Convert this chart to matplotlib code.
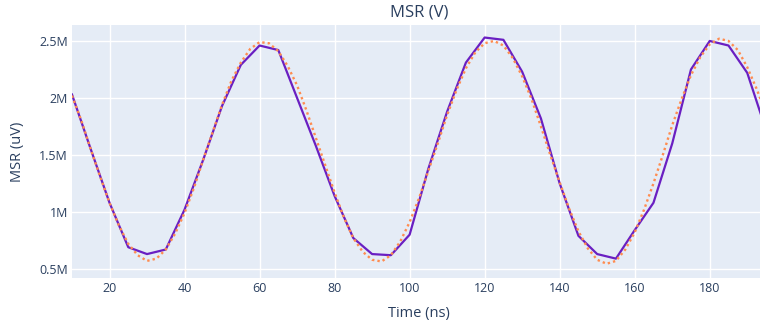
import numpy as np
import matplotlib
matplotlib.use("Agg")
import matplotlib.pyplot as plt
from matplotlib.ticker import FuncFormatter

# measured MSR, in MuV (millions), one sample every 5 ns
time_meas = np.arange(10, 196, 5)
msr_meas = [2.03, 1.55, 1.08, 0.69, 0.63, 0.67, 1.02, 1.46, 1.93, 2.29,
            2.46, 2.42, 2.00, 1.58, 1.14, 0.77, 0.63, 0.62, 0.80, 1.38,
            1.88, 2.31, 2.53, 2.51, 2.23, 1.82, 1.25, 0.79, 0.63, 0.59,
            0.84, 1.08, 1.60, 2.25, 2.50, 2.46, 2.22, 1.72]

# fitted curve, one point every 2.5 ns
time_fit = np.arange(10, 195.1, 2.5)
msr_fit = [2.02, 1.80, 1.55, 1.31, 1.08, 0.88, 0.72, 0.62, 0.57, 0.59,
           0.67, 0.81, 0.99, 1.21, 1.46, 1.70, 1.94, 2.15, 2.31, 2.43,
           2.49, 2.48, 2.41, 2.28, 2.11, 1.89, 1.65, 1.41, 1.17, 0.95,
           0.77, 0.65, 0.58, 0.565, 0.62, 0.74, 0.91, 1.12, 1.36, 1.60,
           1.85, 2.07, 2.26, 2.40, 2.48, 2.50, 2.46, 2.35, 2.19, 1.99,
           1.75, 1.50, 1.26, 1.03, 0.83, 0.68, 0.58, 0.545, 0.57, 0.67,
           0.82, 1.02, 1.25, 1.50, 1.76, 1.99, 2.20, 2.36, 2.47, 2.52,
           2.50, 2.42, 2.27, 2.08, 1.86]

txt = "#2a3f5f"
plt.rcParams["font.family"] = ["Open Sans", "DejaVu Sans"]

fig = plt.figure(figsize=(7.6, 3.21), dpi=100)
# plot area runs a little past the right edge, as in the reference
ax = fig.add_axes([72 / 760, 43 / 321, 694 / 760, 253 / 321])
ax.set_facecolor("#e5ecf6")

ax.plot(time_meas, np.array(msr_meas) * 1e6, color="#6a1fc2", lw=1.6, zorder=3)
ax.plot(time_fit, np.array(msr_fit) * 1e6, color="#ff8c50", lw=1.7,
        linestyle=(0, (1, 1.3)), zorder=4)

ax.set_xlim(10, 195)
ax.set_ylim(0.42e6, 2.64e6)
ax.set_xticks([20, 40, 60, 80, 100, 120, 140, 160, 180])
ax.set_yticks([0.5e6, 1e6, 1.5e6, 2e6, 2.5e6])
ax.yaxis.set_major_formatter(FuncFormatter(lambda v, p: f"{v / 1e6:g}M"))
ax.grid(True, color="white", lw=1)
ax.set_axisbelow(True)
for s in ax.spines.values():
    s.set_visible(False)
ax.tick_params(length=0, labelsize=9, labelcolor=txt, pad=3)

ax.set_title("MSR (V)", fontsize=12, color=txt, pad=6)
ax.set_xlabel("Time (ns)", fontsize=10.5, color=txt, labelpad=8)
ax.set_ylabel("MSR (uV)", fontsize=10.5, color=txt, labelpad=10)

fig.savefig("out.png", dpi=100)
